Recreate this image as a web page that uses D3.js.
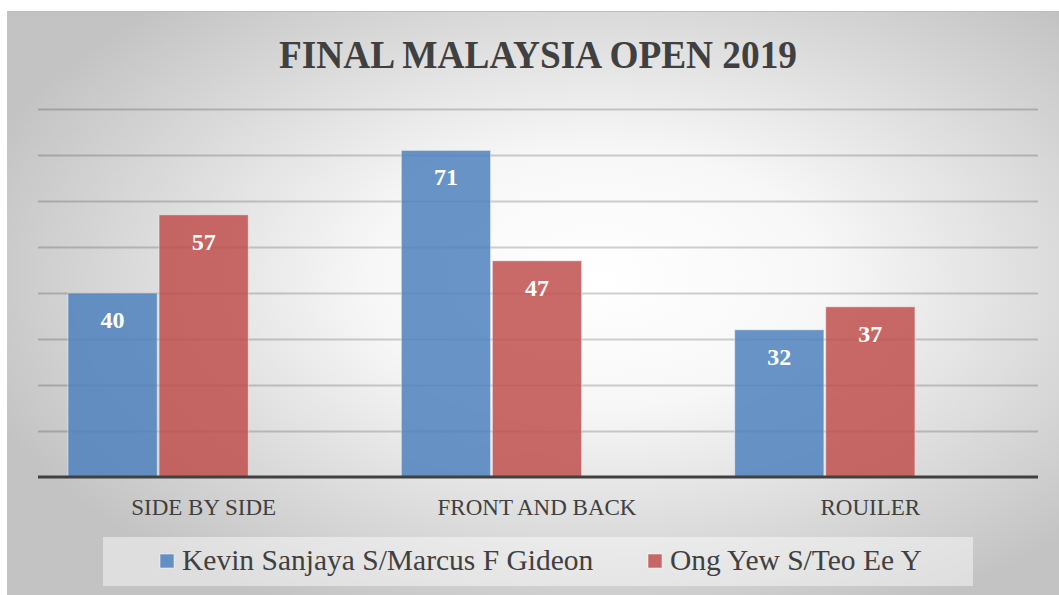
<!DOCTYPE html>
<html>
<head>
<meta charset="utf-8" />
<title>Final Malaysia Open 2019</title>
<script src="https://d3js.org/d3.v7.min.js"></script>
<style>
  body { margin: 0; background: #fff; }
</style>
</head>
<body>
<svg width="1059" height="595"></svg>
<script>
// data
const categories = ['SIDE BY SIDE', 'FRONT AND BACK', 'ROUILER'];
const seriesNames = ['Kevin Sanjaya S/Marcus F Gideon', 'Ong Yew S/Teo Ee Y'];
const kevinValues = [40, 71, 32];
const ongValues = [57, 47, 37];
const gridTicks = [10, 20, 30, 40, 50, 60, 70, 80];

const colors = ['#4f81bd', '#c0504d'];
const serif = '"Liberation Serif", "DejaVu Serif", serif';

const svg = d3.select('svg');
const width = +svg.attr('width');
const height = +svg.attr('height');

// background panel with radial shading
const defs = svg.append('defs');
const grad = defs.append('radialGradient')
    .attr('id', 'bg')
    .attr('cx', '56%').attr('cy', '45%').attr('r', '62%');
grad.append('stop').attr('offset', '0%').attr('stop-color', '#ffffff');
grad.append('stop').attr('offset', '35%').attr('stop-color', '#f7f7f7');
grad.append('stop').attr('offset', '100%').attr('stop-color', '#c3c3c3');

svg.append('rect')
    .attr('x', 7).attr('y', 11)
    .attr('width', width).attr('height', height)
    .attr('fill', 'url(#bg)');
svg.append('line')
    .attr('x1', 7).attr('x2', width).attr('y1', 11.5).attr('y2', 11.5)
    .attr('stroke', '#bdbdbd').attr('stroke-width', 1);

// scales
const x0 = d3.scaleBand()
    .domain(categories)
    .range([37, 1037])
    .paddingInner(0.186)
    .paddingOuter(0.093);

// three slots per group, the last one stays empty like in the original
const x1 = d3.scaleBand()
    .domain(['s0', 's1', 's2'])
    .range([0, x0.bandwidth()])
    .paddingInner(0.02);

const y = d3.scaleLinear()
    .domain([0, 80])
    .range([477, 109]);

// gridlines
const yAxis = d3.axisLeft(y)
    .tickValues(gridTicks)
    .tickSize(-1000)
    .tickFormat('');
const gridG = svg.append('g')
    .attr('transform', 'translate(38,0)')
    .call(yAxis);
gridG.select('.domain').remove();
gridG.selectAll('.tick line')
    .attr('stroke', '#000')
    .attr('stroke-opacity', 0.18)
    .attr('stroke-width', 2);

// bars
const rows = categories.map((c, i) => ({cat: c, vals: [kevinValues[i], ongValues[i]]}));

const groups = svg.selectAll('.grp')
    .data(rows)
    .enter().append('g')
    .attr('class', 'grp')
    .attr('transform', d => 'translate(' + x0(d.cat) + ',0)');

const bars = groups.selectAll('.bar')
    .data(d => d.vals.map((v, k) => ({v: v, k: k})))
    .enter();

bars.append('rect')
    .attr('x', d => x1('s' + d.k))
    .attr('y', d => y(d.v))
    .attr('width', x1.bandwidth())
    .attr('height', d => y(0) - y(d.v))
    .attr('fill', d => colors[d.k])
    .attr('fill-opacity', 0.85)
    .attr('stroke', '#fff')
    .attr('stroke-opacity', 0.45)
    .attr('stroke-width', 1);

bars.append('text')
    .attr('x', d => x1('s' + d.k) + x1.bandwidth() / 2)
    .attr('y', d => y(d.v) + 35)
    .attr('text-anchor', 'middle')
    .attr('fill', '#fff')
    .style('font-family', serif)
    .style('font-weight', 'bold')
    .style('font-size', '24px')
    .text(d => d.v);

// x axis
const xAxis = d3.axisBottom(x0).tickSize(0).tickPadding(0);
const xG = svg.append('g')
    .attr('transform', 'translate(0,' + y(0) + ')')
    .call(xAxis);
xG.select('.domain').remove();
xG.selectAll('.tick text')
    .attr('y', 38)
    .attr('dy', null)
    .attr('fill', '#404040')
    .style('font-family', serif)
    .style('font-size', '23px');

svg.append('line')
    .attr('x1', 38).attr('x2', 1038)
    .attr('y1', y(0)).attr('y2', y(0))
    .attr('stroke', '#404040')
    .attr('stroke-width', 3);

// title
svg.append('text')
    .attr('x', 538)
    .attr('y', 68)
    .attr('text-anchor', 'middle')
    .attr('fill', '#404040')
    .attr('textLength', 518)
    .attr('lengthAdjust', 'spacingAndGlyphs')
    .style('font-family', serif)
    .style('font-weight', 'bold')
    .style('font-size', '39px')
    .text('FINAL MALAYSIA OPEN 2019');

// legend
svg.append('rect')
    .attr('x', 103).attr('y', 537)
    .attr('width', 870).attr('height', 49)
    .attr('fill', '#fff').attr('fill-opacity', 0.45);

const legendX = [160, 648];
const legend = svg.selectAll('.leg')
    .data(seriesNames)
    .enter().append('g')
    .attr('class', 'leg')
    .attr('transform', (d, i) => 'translate(' + legendX[i] + ',554)');

legend.append('rect')
    .attr('width', 14).attr('height', 14)
    .attr('fill', (d, i) => colors[i])
    .attr('fill-opacity', 0.85)
    .attr('stroke', '#fff').attr('stroke-opacity', 0.5);

legend.append('text')
    .attr('x', 22)
    .attr('y', 16)
    .attr('fill', '#404040')
    .style('font-family', serif)
    .style('font-size', '29.5px')
    .text(d => d);
</script>
</body>
</html>
